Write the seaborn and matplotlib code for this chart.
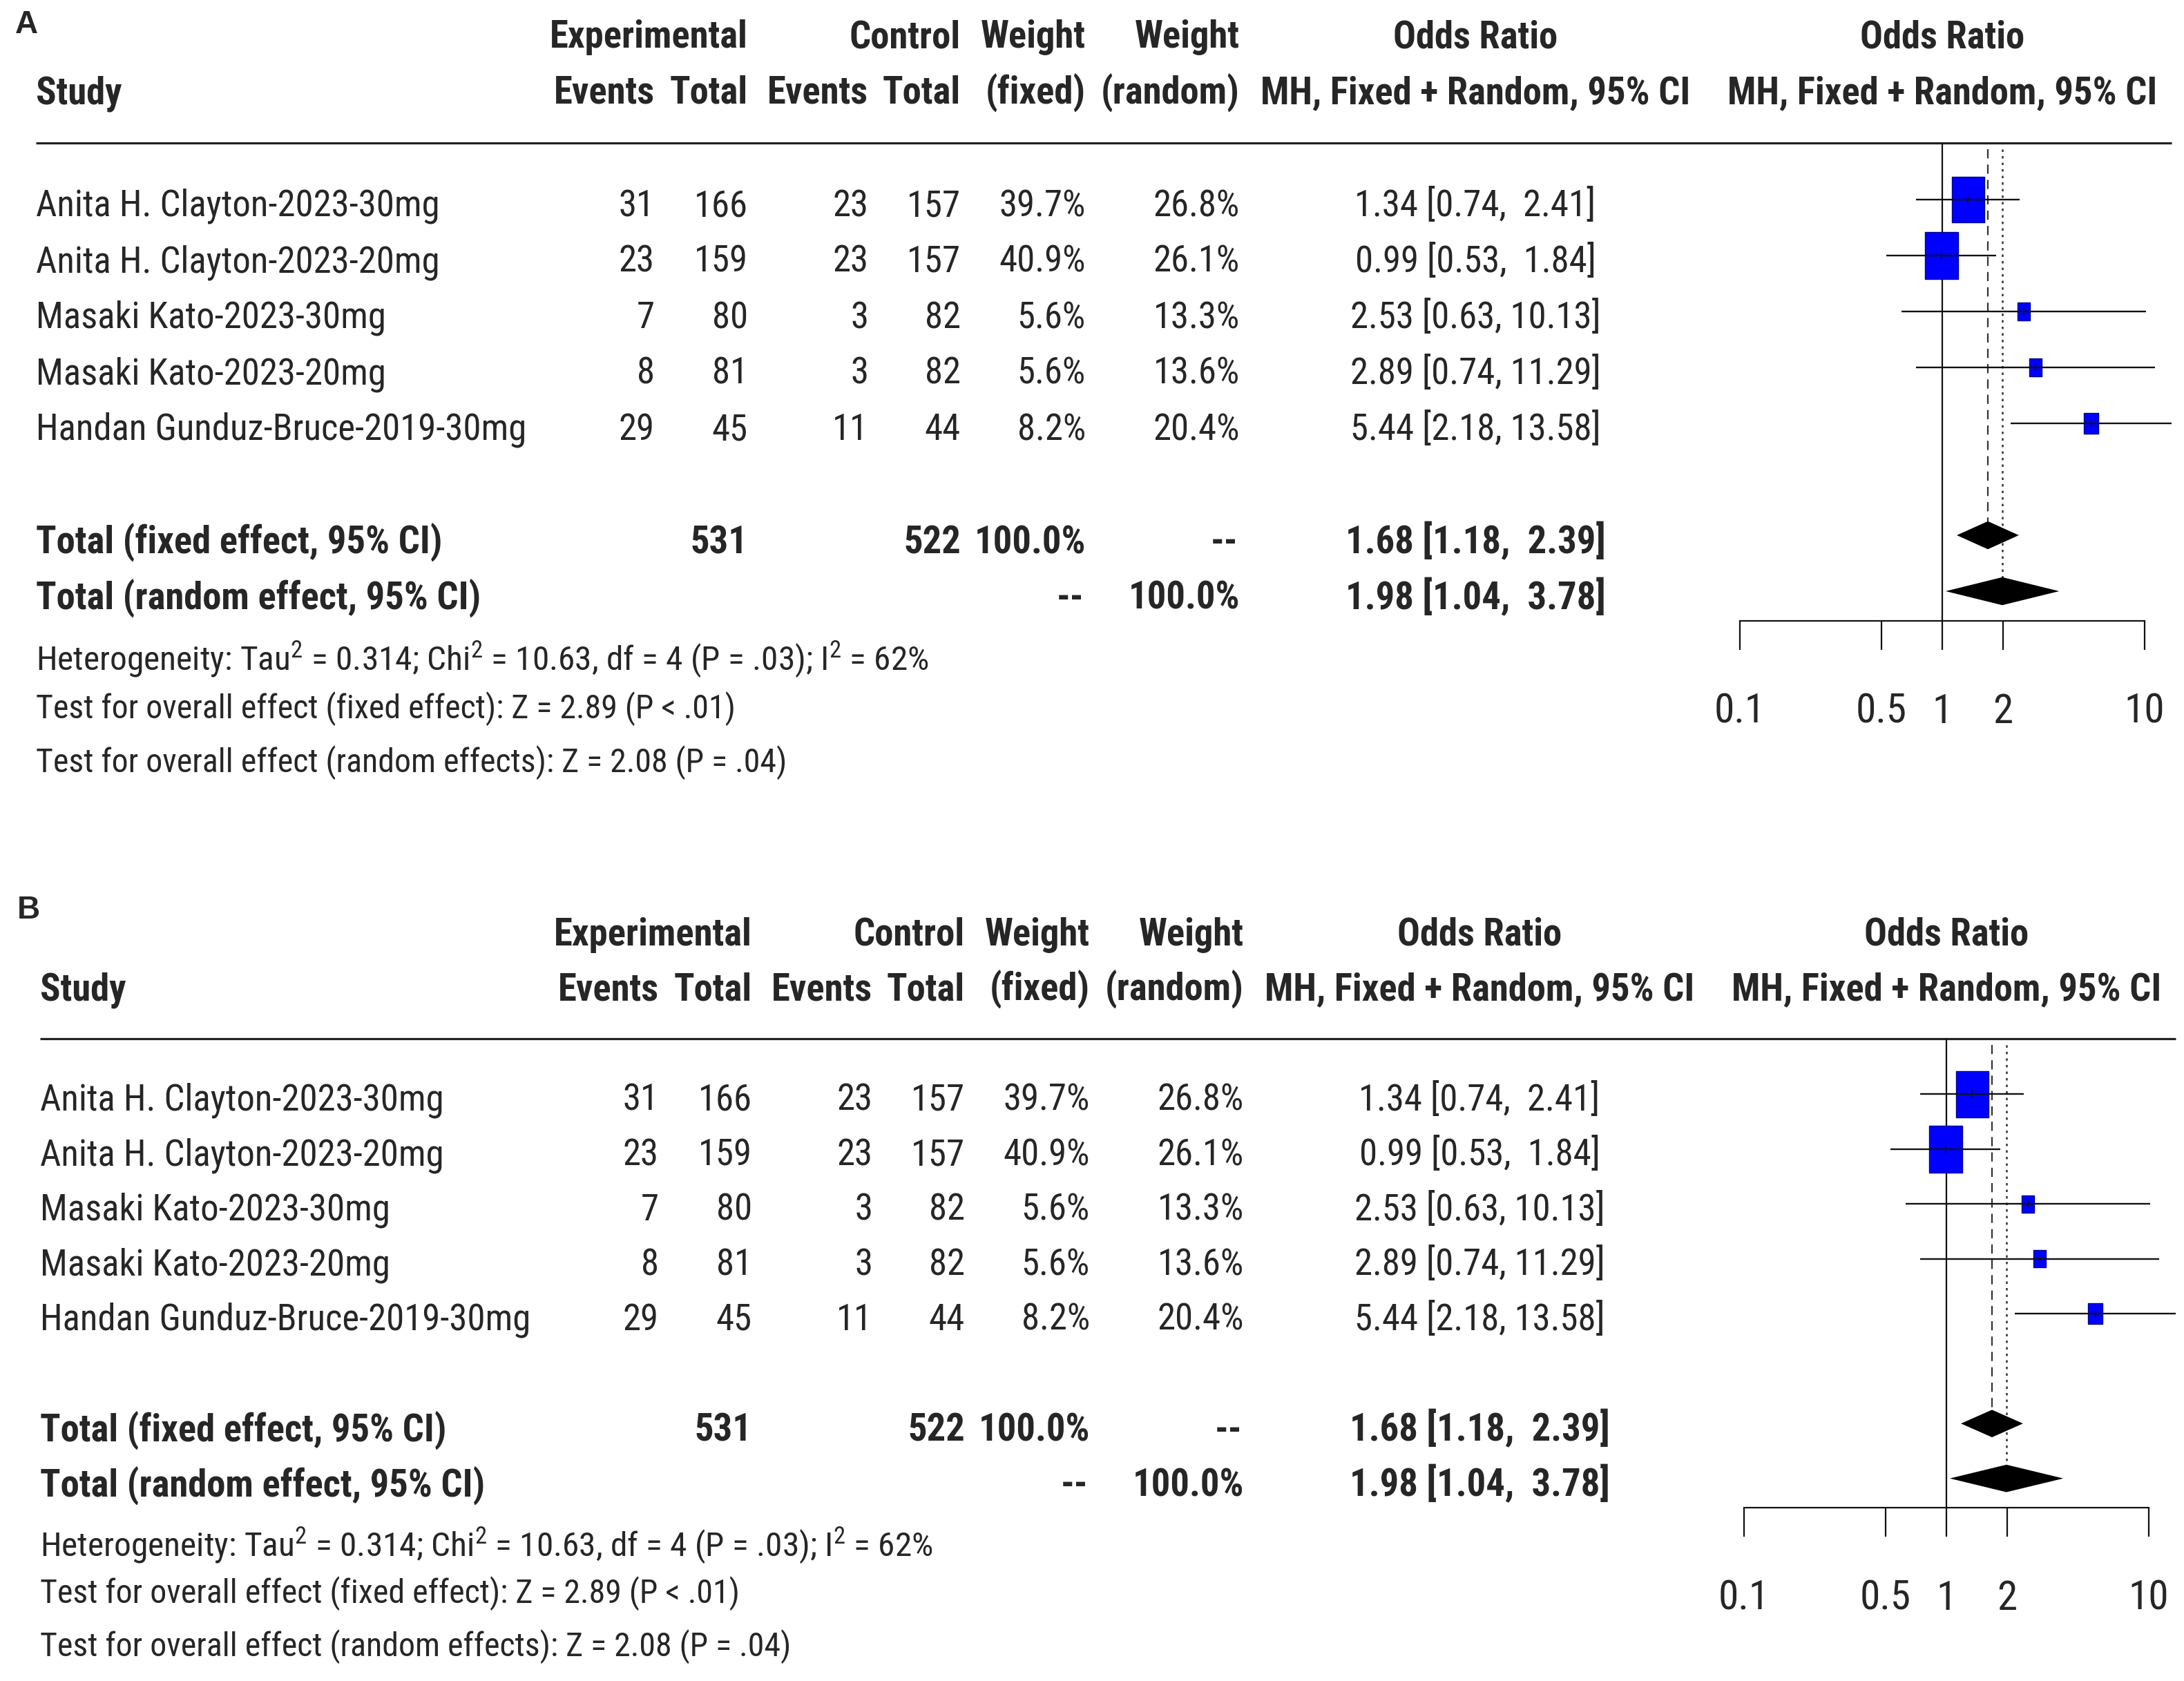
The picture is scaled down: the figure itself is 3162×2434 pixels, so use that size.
import numpy as np
import pandas as pd
import matplotlib
matplotlib.use("Agg")
import matplotlib.pyplot as plt
import seaborn as sns
from matplotlib import font_manager
from matplotlib.path import Path
from matplotlib.markers import MarkerStyle
from matplotlib.ticker import NullLocator

# ---------------- data ----------------
studies = ["Anita H. Clayton-2023-30mg", "Anita H. Clayton-2023-20mg",
           "Masaki Kato-2023-30mg", "Masaki Kato-2023-20mg",
           "Handan Gunduz-Bruce-2019-30mg"]
exp_events = [31, 23, 7, 8, 29]
exp_total = [166, 159, 80, 81, 45]
ctrl_events = [23, 23, 3, 3, 11]
ctrl_total = [157, 157, 82, 82, 44]
w_fixed = [39.7, 40.9, 5.6, 5.6, 8.2]
w_random = [26.8, 26.1, 13.3, 13.6, 20.4]
or_est = [1.34, 0.99, 2.53, 2.89, 5.44]
or_lo = [0.74, 0.53, 0.63, 0.74, 2.18]
or_hi = [2.41, 1.84, 10.13, 11.29, 13.58]

pooled_labels = ["Total (fixed effect, 95% CI)", "Total (random effect, 95% CI)"]
pooled_or = [1.68, 1.98]
pooled_lo = [1.18, 1.04]
pooled_hi = [2.39, 3.78]
pooled_weight = ["100.0%", "100.0%"]
exp_sum = 531
ctrl_sum = 522

footer_lines = [
    r"Heterogeneity: Tau$^2$ = 0.314; Chi$^2$ = 10.63, df = 4 (P = .03); I$^2$ = 62%",
    "Test for overall effect (fixed effect): Z = 2.89 (P < .01)",
    "Test for overall effect (random effects): Z = 2.08 (P = .04)",
]
axis_ticks = [0.1, 0.5, 1, 2, 10]
axis_tick_labels = ["0.1", "0.5", "1", "2", "10"]
panel_labels = ["A", "B"]

# ---------------- fonts ----------------
sns.set_theme(style="white")
ents = font_manager.fontManager.ttflist


def has_regular_and_bold(name):
    ws = {int(f.weight) if str(f.weight).isdigit() else 400
          for f in ents if f.name == name and f.style == "normal"}
    return any(w <= 500 for w in ws) and any(w >= 700 for w in ws)


cands = ["Liberation Sans Narrow", "Arial Narrow", "Nimbus Sans Narrow",
         "Roboto Condensed", "Asap Condensed", "Liberation Sans"]
NARROW = next((c for c in cands if has_regular_and_bold(c)), "Liberation Sans")
plt.rcParams["font.family"] = [NARROW, "DejaVu Sans"]
plt.rcParams["mathtext.fontset"] = "custom"
plt.rcParams["mathtext.rm"] = NARROW
plt.rcParams["mathtext.it"] = NARROW + ":italic"
plt.rcParams["mathtext.bf"] = NARROW + ":bold"

W, H = 3162, 2434
fig = plt.figure(figsize=(W / 100, H / 100), dpi=100)
renderer = fig.canvas.get_renderer()


def measured_size(s, target_px, bold=False, base=40.0):
    t = fig.text(0, 0, s, fontsize=base, fontweight="bold" if bold else "normal")
    w = t.get_window_extent(renderer).width
    t.remove()
    return base * target_px / w


FS = measured_size(studies[0], 585)
FS_B = measured_size(pooled_labels[1], 644, bold=True)
FS_FOOT = measured_size(footer_lines[2], 1086)
FS_HET = measured_size(footer_lines[0], 1293)
FS_TICK = FS * 46 / 41

tax = fig.add_axes([0, 0, 1, 1])
tax.set_xlim(0, W)
tax.set_ylim(H, 0)
tax.axis("off")

square = MarkerStyle(Path([(-0.71, -1), (0.71, -1), (0.71, 1), (-0.71, 1), (-0.71, -1)],
                          [Path.MOVETO, Path.LINETO, Path.LINETO, Path.LINETO, Path.CLOSEPOLY]))


def draw_panel(label, dx, y0, sy, lab_x, lab_y):
    X = lambda x: x + dx
    Y = lambda y: y0 + (y - 49) * sy

    def t(x, y, s, ha="right", bold=False, fs=None):
        if fs is None:
            fs = FS_B if bold else FS
        tax.text(X(x), Y(y), s, ha=ha, va="baseline", fontsize=fs,
                 fontweight="bold" if bold else "normal")

    tax.text(lab_x, lab_y, label, ha="left", va="baseline", fontsize=33,
             fontweight="bold", family="Liberation Sans")

    # headers
    b1, b2 = 69, 150
    t(1083, b1, "Experimental", bold=True)
    t(1391, b1, "Control", bold=True)
    t(1572, b1, "Weight", bold=True)
    t(1795, b1, "Weight", bold=True)
    t(2136, b1, "Odds Ratio", ha="center", bold=True)
    t(2812, b1, "Odds Ratio", ha="center", bold=True)
    t(52, b2, "Study", ha="left", bold=True)
    t(948, b2, "Events", bold=True)
    t(1083, b2, "Total", bold=True)
    t(1257, b2, "Events", bold=True)
    t(1391, b2, "Total", bold=True)
    t(1572, b2, "(fixed)", bold=True)
    t(1795, b2, "(random)", bold=True)
    t(2136, b2, "MH, Fixed + Random, 95% CI", ha="center", bold=True)
    t(2812, b2, "MH, Fixed + Random, 95% CI", ha="center", bold=True)

    tax.plot([X(52), X(3144)], [Y(207), Y(207)], color="#222222", lw=2.3,
             solid_capstyle="butt")

    # study rows
    for i in range(len(studies)):
        bl = 313 + 81 * i
        t(52, bl, studies[i], ha="left")
        t(948, bl, str(exp_events[i]))
        t(1083, bl, str(exp_total[i]))
        t(1257, bl, str(ctrl_events[i]))
        t(1391, bl, str(ctrl_total[i]))
        t(1572, bl, f"{w_fixed[i]:.1f}%")
        t(1795, bl, f"{w_random[i]:.1f}%")
        t(2136, bl, f"{or_est[i]:.2f} [{or_lo[i]:.2f}, {or_hi[i]:5.2f}]", ha="center")

    # pooled rows
    bf, br = 801, 882
    t(52, bf, pooled_labels[0], ha="left", bold=True)
    t(1083, bf, str(exp_sum), bold=True)
    t(1391, bf, str(ctrl_sum), bold=True)
    t(1572, bf, pooled_weight[0], bold=True)
    t(1792, bf, "--", bold=True)
    t(2136, bf, f"{pooled_or[0]:.2f} [{pooled_lo[0]:.2f}, {pooled_hi[0]:5.2f}]", ha="center", bold=True)
    t(52, br, pooled_labels[1], ha="left", bold=True)
    t(1569, br, "--", bold=True)
    t(1795, br, pooled_weight[1], bold=True)
    t(2136, br, f"{pooled_or[1]:.2f} [{pooled_lo[1]:.2f}, {pooled_hi[1]:5.2f}]", ha="center", bold=True)

    t(52, 970, footer_lines[0], ha="left", fs=FS_HET)
    t(52, 1040, footer_lines[1], ha="left", fs=FS_FOOT)
    t(52, 1118, footer_lines[2], ha="left", fs=FS_FOOT)

    # forest axes
    p = lambda r: 289 + 81 * r
    rtop, rbot = -1.3, 8.3
    L, R = 2440, 3162
    x1, dec = 2812, 293.0
    top_px, bot_px = Y(p(rtop)), Y(p(rbot))
    ax = fig.add_axes([X(L) / W, 1 - bot_px / H, (R - L) / W, (bot_px - top_px) / H])
    ax.set_facecolor("none")
    ax.set_xscale("log")
    ax.set_xlim(10 ** ((L - x1) / dec), 10 ** ((R - x1) / dec))
    ax.set_ylim(rbot, rtop)
    for s in ["top", "left", "right"]:
        ax.spines[s].set_visible(False)
    ax.spines["bottom"].set_position(("data", 7.53))
    ax.spines["bottom"].set_bounds(0.1, 10)
    ax.spines["bottom"].set_linewidth(1.6)
    ax.spines["bottom"].set_color("#111111")
    ax.set_xticks(axis_ticks)
    ax.set_xticklabels(axis_tick_labels)
    ax.xaxis.set_minor_locator(NullLocator())
    ax.tick_params(axis="x", direction="out", length=30, width=1.6, pad=44,
                   labelsize=FS_TICK, color="#111111", bottom=True)
    ax.set_yticks([])
    ax.grid(False)

    rows = list(range(len(studies)))
    ax.vlines(1, -1.01, 7.53, color="#111111", lw=1.6, zorder=2)
    ax.vlines(pooled_or[0], -0.9, 6 - 0.25, color="#333333", lw=1.6,
              linestyles=[(0, (6.0, 4.0))], zorder=2)
    ax.vlines(pooled_or[1], -0.9, 7 - 0.25, color="#333333", lw=1.8,
              linestyles=[(0, (1.4, 2.4))], zorder=2)

    df = pd.DataFrame({"or": or_est, "row": rows, "w": w_fixed})
    sizes = [(10.6 * np.sqrt(w) * 0.72) ** 2 for w in w_fixed]
    sns.scatterplot(data=df, x="or", y="row", s=sizes, marker=square,
                    color="#0000FF", edgecolor="#00008B", linewidth=1.0,
                    legend=False, ax=ax, zorder=3)
    ax.hlines(rows, or_lo, or_hi, color="#111111", lw=1.7, zorder=4)
    ax.plot(or_est, rows, ls="none", marker="|", ms=9, mew=1.2, color="#111111", zorder=5)

    for k, r in enumerate([6, 7]):
        ax.fill([pooled_lo[k], pooled_or[k], pooled_hi[k], pooled_or[k]],
                [r, r - 0.25, r, r + 0.25], color="black", lw=0, zorder=3)
    ax.set_xlabel("")
    ax.set_ylabel("")


draw_panel(panel_labels[0], 0, 49, 1.0, 22, 48)
draw_panel(panel_labels[1], 6, 1349, 0.981, 25, 1330)

fig.savefig("out.png", dpi=100)
